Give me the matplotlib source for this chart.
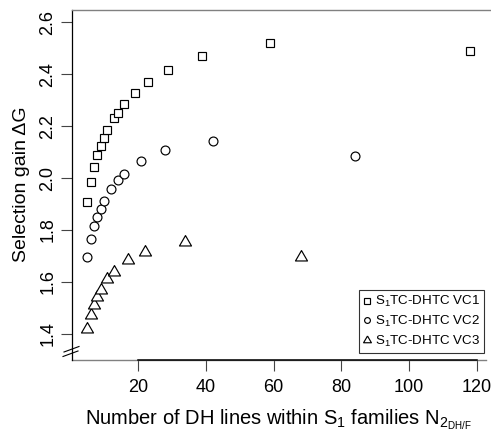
import matplotlib
matplotlib.use('Agg')
import matplotlib.pyplot as plt
from matplotlib.lines import Line2D

plt.rcParams['font.family'] = ['Liberation Sans', 'DejaVu Sans']
plt.rcParams['mathtext.fontset'] = 'custom'
plt.rcParams['mathtext.rm'] = 'Liberation Sans'
plt.rcParams['mathtext.it'] = 'Liberation Sans:italic'
plt.rcParams['mathtext.bf'] = 'Liberation Sans:bold'

# ---- data ----
vc1_n = [5, 6, 7, 8, 9, 10, 11, 13, 14, 16, 19, 23, 29, 39, 59, 118]
vc1_g = [1.909, 1.985, 2.041, 2.087, 2.124, 2.156, 2.185, 2.233, 2.251, 2.286,
         2.328, 2.370, 2.418, 2.469, 2.522, 2.490]
vc2_n = [5, 6, 7, 8, 9, 10, 12, 14, 16, 21, 28, 42, 84]
vc2_g = [1.697, 1.764, 1.814, 1.851, 1.881, 1.910, 1.957, 1.991, 2.014, 2.065,
         2.107, 2.144, 2.085]
vc3_n = [5, 6, 7, 8, 9, 11, 13, 17, 22, 34, 68]
vc3_g = [1.416, 1.471, 1.509, 1.541, 1.567, 1.609, 1.637, 1.682, 1.713, 1.753, 1.695]

labels = [r'S$_1$TC-DHTC VC1', r'S$_1$TC-DHTC VC2', r'S$_1$TC-DHTC VC3']
xticks = [20, 40, 60, 80, 100, 120]
yticks = [1.4, 1.6, 1.8, 2.0, 2.2, 2.4, 2.6]

W, H = 491, 434
fig = plt.figure(figsize=(W / 100, H / 100), dpi=100)
L, R, B, T = 71.8, 485.5, 359.5, 9.5
ax = fig.add_axes([L / W, 1 - B / H, (R - L) / W, (B - T) / H])

tri = [(0, 1.5551), (1.3468, -0.7776), (-1.3468, -0.7776), (0, 1.5551)]
common = dict(linestyle='none', markerfacecolor='white', markeredgecolor='black',
              markeredgewidth=0.85)
ax.plot(vc1_n, vc1_g, marker='s', markersize=5.8, label=labels[0], **common)
ax.plot(vc2_n, vc2_g, marker='o', markersize=6.4, label=labels[1], **common)
ax.plot(vc3_n, vc3_g, marker=tri, markersize=10.0, label=labels[2], **common)

ax.set_xlim(0.48, 122.52)
ax.set_ylim(1.30, 2.65)
ax.set_xticks(xticks)
ax.set_yticks(yticks)
ax.set_yticklabels([f'{v:.1f}' for v in yticks])
ax.tick_params(direction='out', length=8, width=0.8, labelsize=13, color='#444444')
ax.tick_params(axis='x', pad=6)
ax.tick_params(axis='y', pad=3)
for lab in ax.get_yticklabels():
    lab.set_rotation(90)
    lab.set_va('center')

for s in ['top', 'right']:
    ax.spines[s].set_visible(False)
ax.spines['left'].set_color('black')
ax.spines['left'].set_linewidth(0.9)
ax.spines['bottom'].set_color('black')
ax.spines['bottom'].set_linewidth(1.1)
ax.spines['bottom'].set_bounds(20, 120)

# grey box lines
gray = '#808080'
fig.add_artist(Line2D([L / W, 1.0], [1 - T / H, 1 - T / H], color=gray, lw=1.0,
                      transform=fig.transFigure))
ax.plot([0, 1], [0, 0], transform=ax.transAxes, color=gray, lw=1.0,
        clip_on=False, zorder=2)

# axis break mark
for (x0, y0, x1, y1) in [(63, 356.5, 78, 351), (64, 352, 79, 346.5)]:
    fig.add_artist(Line2D([x0 / W, x1 / W], [1 - y0 / H, 1 - y1 / H], color='black',
                          lw=0.8, transform=fig.transFigure))

ax.set_xlabel(r'Number of DH lines within S$_1$ families N$_{2_{\mathrm{DH/F}}}$',
              fontsize=14.5, labelpad=8)
ax.set_ylabel('Selection gain \u0394G', fontsize=14, labelpad=7)

leg = ax.legend(loc='lower right', bbox_to_anchor=(0.9964, 0.0186), borderaxespad=0,
                fontsize=9.6, markerscale=0.65, frameon=True, fancybox=False,
                handlelength=0.6, handletextpad=0.3, borderpad=0.3,
                labelspacing=0.35, edgecolor='black')
leg.get_frame().set_linewidth(0.8)

fig.savefig('out.png', dpi=100)
